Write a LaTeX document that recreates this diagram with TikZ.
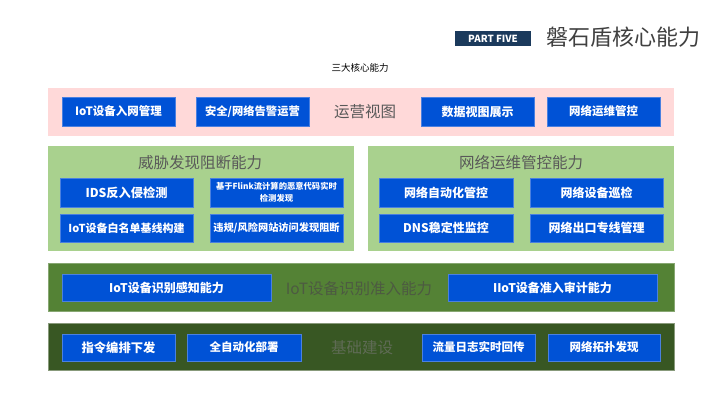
\documentclass[tikz,border=0pt]{standalone}
\usepackage{fontspec}
\setmainfont{Noto Sans CJK SC}
\definecolor{navy}{HTML}{1B3A5C}
\definecolor{pinkband}{HTML}{FFD9D9}
\definecolor{lightgreen}{HTML}{A9D18E}
\definecolor{olive}{HTML}{548235}
\definecolor{darkolive}{HTML}{385723}
\definecolor{boxblue}{HTML}{0052D6}
\definecolor{boxedge}{HTML}{4A80E0}
\definecolor{titlegray}{HTML}{595959}
\definecolor{ghost}{HTML}{4D5A42}
\tikzset{
  blk/.style={fill=boxblue, draw=boxedge, line width=0.5pt, text=white, inner sep=0pt,
    font=\bfseries\fontsize{11.5}{13}\selectfont, align=center},
  band/.style={inner sep=0pt},
  paneltitle/.style={text=titlegray, font=\fontsize{15.5}{17}\selectfont, inner sep=0pt},
}
\begin{document}
\begin{tikzpicture}[x=1pt,y=-1pt]
\useasboundingbox[fill=white] (0,0) rectangle (720,405);
% header
\node[fill=navy, minimum width=76, minimum height=15, inner sep=0pt, text=white,
  font=\bfseries\fontsize{9.8}{10}\selectfont] (part) at (493,38.5) {PART FIVE};
\node[anchor=west, inner sep=0pt, text=black!75, font=\fontsize{22}{24}\selectfont] (title) at (546,37) {磐石盾核心能力};
\node[inner sep=0pt, font=\fontsize{9.5}{11}\selectfont] (sub) at (360,68) {三大核心能力};
% band 1
\node[band, fill=pinkband, minimum width=626, minimum height=48] (b1) at (361,112) {};
\node[blk, minimum width=113, minimum height=29] (b1a) at (118.5,111.5) {IoT设备入网管理};
\node[blk, minimum width=113, minimum height=29, font=\bfseries\fontsize{11.3}{13}\selectfont] (b1b) at (252.5,111.5) {安全/网络告警运营};
\node[paneltitle] (b1t) at (365,112) {运营视图};
\node[blk, minimum width=113, minimum height=29, font=\bfseries\fontsize{12}{13}\selectfont] (b1c) at (477.5,111.5) {数据视图展示};
\node[blk, minimum width=113, minimum height=29] (b1d) at (603.5,111.5) {网络运维管控};
% left panel
\node[band, fill=lightgreen, minimum width=306, minimum height=105] (pl) at (201,198.5) {};
\node[paneltitle] (plt) at (200,163) {威胁发现阻断能力};
\node[blk, minimum width=133, minimum height=29, font=\bfseries\fontsize{12.2}{13}\selectfont] (pla) at (126.5,192.5) {IDS反入侵检测};
\node[blk, minimum width=133, minimum height=29, font=\bfseries\fontsize{8.3}{11.5}\selectfont] (plb) at (276.5,192.5) {基于Flink流计算的恶意代码实时\\检测发现};
\node[blk, minimum width=133, minimum height=28, font=\bfseries\fontsize{11}{13}\selectfont] (plc) at (126.5,228) {IoT设备白名单基线构建};
\node[blk, minimum width=133, minimum height=28, font=\bfseries\fontsize{10.2}{13}\selectfont] (pld) at (276.5,228) {违规/风险网站访问发现阻断};
% right panel
\node[band, fill=lightgreen, minimum width=306, minimum height=105] (pr) at (521,198.5) {};
\node[paneltitle] (prt) at (521,163) {网络运维管控能力};
\node[blk, minimum width=134, minimum height=29, font=\bfseries\fontsize{12}{13}\selectfont] (pra) at (446,192.5) {网络自动化管控};
\node[blk, minimum width=133, minimum height=29, font=\bfseries\fontsize{12}{13}\selectfont] (prb) at (596.5,192.5) {网络设备巡检};
\node[blk, minimum width=134, minimum height=28, font=\bfseries\fontsize{12}{13}\selectfont] (prc) at (446,228) {DNS稳定性监控};
\node[blk, minimum width=133, minimum height=28, font=\bfseries\fontsize{12}{13}\selectfont] (prd) at (596.5,228) {网络出口专线管理};
% band 3
\node[band, fill=olive, draw=olive!70!white, line width=0.5pt, minimum width=626, minimum height=48] (b3) at (361,287) {};
\node[blk, minimum width=209, minimum height=27, font=\bfseries\fontsize{12}{13}\selectfont] (b3a) at (166.5,287.5) {IoT设备识别感知能力};
\node[paneltitle, text=ghost] (b3t) at (359,289) {IoT设备识别准入能力};
\node[blk, minimum width=209, minimum height=27, font=\bfseries\fontsize{12}{13}\selectfont] (b3b) at (552.5,287.5) {IIoT设备准入审计能力};
% band 4
\node[band, fill=darkolive, draw=darkolive!60!white, line width=0.5pt, minimum width=626, minimum height=47] (b4) at (361,346.5) {};
\node[blk, minimum width=113, minimum height=27, font=\bfseries\fontsize{12.3}{13}\selectfont] (b4a) at (118.5,347.5) {指令编排下发};
\node[blk, minimum width=114, minimum height=27] (b4b) at (244,347.5) {全自动化部署};
\node[paneltitle, text=ghost!90!white] (b4t) at (362,348) {基础建设};
\node[blk, minimum width=113, minimum height=27] (b4c) at (478.5,347.5) {流量日志实时回传};
\node[blk, minimum width=112, minimum height=27] (b4d) at (604,347.5) {网络拓扑发现};
\end{tikzpicture}
\end{document}
